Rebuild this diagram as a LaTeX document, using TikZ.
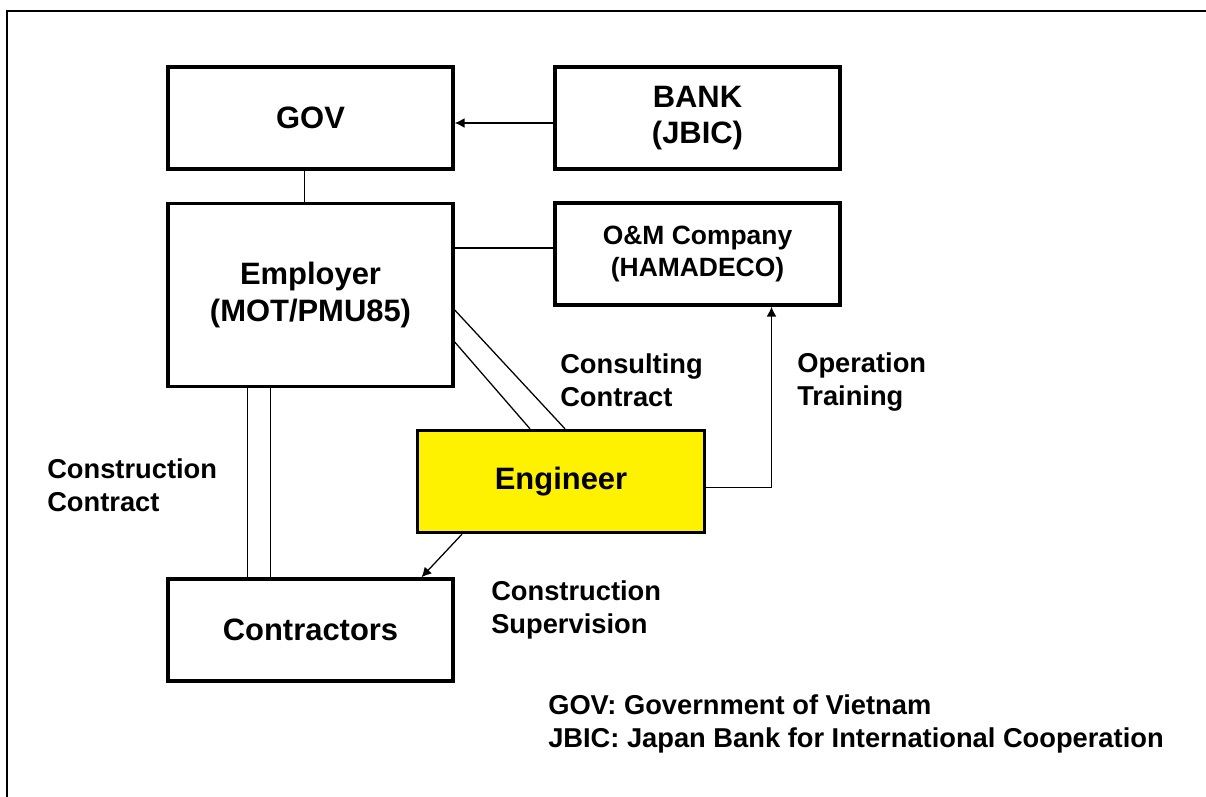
\documentclass[tikz,border=0pt]{standalone}
\usepackage{fontspec}
\setmainfont{Liberation Sans}
\usetikzlibrary{arrows.meta,calc}

\begin{document}
\begin{tikzpicture}[x=0.025cm,y=-0.025cm,
  box/.style={draw,line width=2.4pt,rectangle,minimum width=7.125cm,minimum height=2.55cm,align=center,font=\fontsize{22}{26}\selectfont\bfseries},
  lbl/.style={anchor=west,align=left,inner sep=0pt,font=\fontsize{19.4}{23.5}\selectfont\bfseries},
  link/.style={line width=0.9pt},
  tip/.style={-{Latex[length=7pt,width=7pt]}}]
\useasboundingbox (0,0) rectangle (1206,797);
\draw[line width=1.6pt] (7,797) -- (7,11) -- (1206,11);

\node[box] (gov) at (310.5,118) {GOV};
\node[box] (bank) at (697.5,118) {BANK\\(JBIC)};
\node[box,minimum height=4.575cm] (emp) at (310.5,295) {Employer\\(MOT/PMU85)};
\node[box,font=\fontsize{18.8}{22.8}\selectfont\bfseries] (om) at (697.5,254) {O\&M Company\\(HAMADECO)};
\node[box,fill=yellow,minimum width=7.175cm] (eng) at (561,481.5) {Engineer};
\node[box] (con) at (310.5,630) {Contractors};

\draw[link,tip] ($(bank.west)+(0,5)$) -- ($(gov.east)+(0,5)$);
\draw[link] ($(gov.south)+(-6,0)$) -- ($(emp.north)+(-6,0)$);
\draw[link] ($(om.west)+(0,-6)$) -- ($(emp.east)+(0,-47)$);
%consulting contract
\draw[link] ($(emp.east)+(0,15)$) -- ($(eng.north)+(4,0)$);
\draw[link] ($(emp.east)+(0,47)$) -- ($(eng.north)+(-31,0)$);
%construction contract
\draw[link] ($(emp.south)+(-63,0)$) -- ($(con.north)+(-63,0)$);
\draw[link] ($(emp.south)+(-40,0)$) -- ($(con.north)+(-40,0)$);
\draw[link,tip] ($(eng.south)+(-99,0)$) -- ($(con.north)+(111,0)$);
\draw[link,tip] ($(eng.east)+(0,6)$) -| ($(om.south)+(74,0)$);

\node[lbl] (cons) at (560,380) {Consulting\\Contract};
\node[lbl] (optr) at (797,382) {Operation\\Training};
\node[lbl] (cctr) at (47,485) {Construction\\Contract};
\node[lbl] (csup) at (491,610) {Construction\\Supervision};
\node[lbl] (lgnd) at (548,724) {GOV: Government of Vietnam\\JBIC: Japan Bank for International Cooperation};
\end{tikzpicture}
\end{document}
